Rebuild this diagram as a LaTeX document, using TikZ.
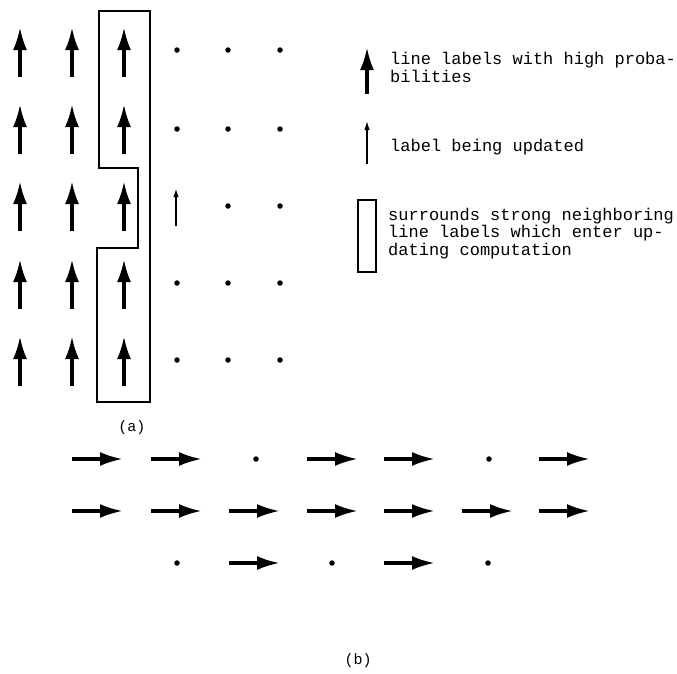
\documentclass[tikz,border=0pt]{standalone}
\usepackage{fontspec}
\setmonofont{Liberation Mono}
\usetikzlibrary{arrows.meta}
\begin{document}
\begin{tikzpicture}[x=1pt,y=-1pt,
  strong/.style={line width=3.4pt,-{Latex[length=23pt,width=14pt]}},
  weak/.style={line width=1.2pt,-{Latex[length=9pt,width=5.5pt]}},
  spot/.style={circle,fill,inner sep=0pt,minimum size=5.5pt},
  txt/.style={anchor=base west,inner sep=0pt,font=\fontsize{17}{17}\selectfont\ttfamily},
  tag/.style={inner sep=0pt,font=\fontsize{15}{15}\selectfont\ttfamily}]

\useasboundingbox (0,0) rectangle (677,673);

% (a) strong line labels
\foreach \x in {20,72,124}
  \foreach \y in {52,129,206,284,361}
    \draw [strong] (\x,\y+25) -- (\x,\y-25);

\foreach \x/\y in {177/50,228/50,280/50,177/129,228/129,280/129,
                   228/206,280/206,177/283,228/283,280/283,
                   177/360,228/360,280/360}
  \node [spot] (a\x-\y) at (\x,\y) {};

% label being updated
\draw [weak,line width=1.8pt] (176,226) -- (176,188);

% neighbours
\path [draw,line width=1.6pt]
    (99,11) -- (150,11) -- (150,402) -- (97,402) -- (97,248)
    -- (138,248) -- (138,168) -- (99,168) -- cycle
;

\node [tag] (taga) at (132,428) {(a)};

% legend
\draw [strong] (367,94) -- (367,47);
\node [txt] (l1) at (390,64) {line labels with high proba-};
\node [txt] (l2) at (390,82) {bilities};

\draw [weak] (367,164) -- (367,121);
\node [txt] (l3) at (390,151) {label being updated};

\path [draw,line width=1.6pt] (358,200) rectangle (376,272);
\node [txt] (l4) at (388,220) {surrounds strong neighboring};
\node [txt] (l5) at (388,237) {line labels which enter up-};
\node [txt] (l6) at (388,255) {dating computation};

% (b)
\foreach \x in {97,176,332,409,564}
  \draw [strong] (\x-25,459) -- (\x+26,459);
\foreach \x in {97,176,254,332,409,487,564}
  \draw [strong] (\x-25,511) -- (\x+26,511);
\foreach \x in {254,409}
  \draw [strong] (\x-25,563) -- (\x+26,563);

\foreach \x/\y in {256/459,489/459,177/563,332/563,488/563}
  \node [spot] (b\x-\y) at (\x,\y) {};

\node [tag] (tagb) at (358,661) {(b)};

\end{tikzpicture}
\end{document}
